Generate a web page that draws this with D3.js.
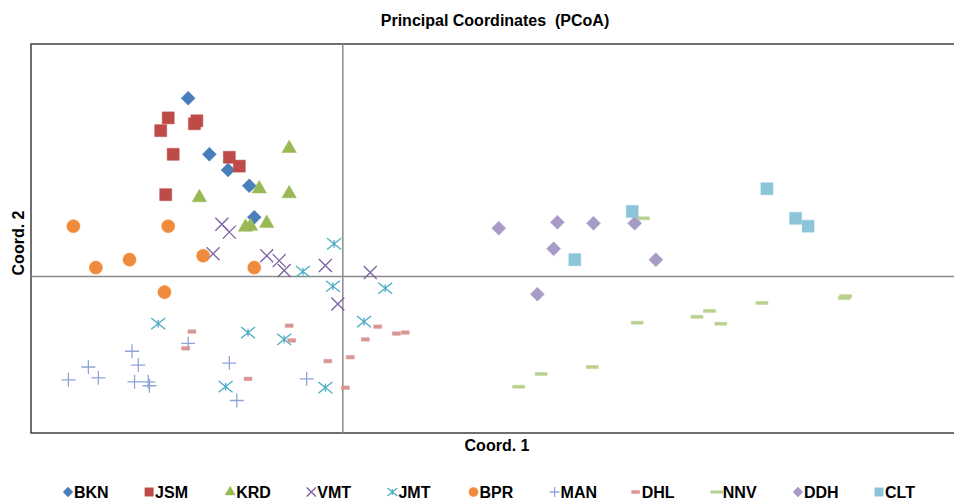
<!DOCTYPE html>
<html>
<head>
<meta charset="utf-8">
<script src="https://cdn.jsdelivr.net/npm/d3@7"></script>
<style>
  body { margin: 0; background: #fff; }
  svg text { font-family: 'Liberation Sans', Arial, sans-serif; font-weight: bold; fill: #000; white-space: pre; }
</style>
</head>
<body>
<svg id="chart" width="954" height="500"></svg>
<script>
// PCoA coordinates per population, [coord1, coord2]
const BKN = [[-0.124, 0.181], [-0.107, 0.124], [-0.092, 0.108], [-0.075, 0.092], [-0.071, 0.060]];
const JSM = [[-0.140, 0.161], [-0.146, 0.148], [-0.117, 0.158], [-0.119, 0.155], [-0.136, 0.124],
  [-0.091, 0.121], [-0.083, 0.112], [-0.142, 0.083]];
const KRD = [[-0.043, 0.130], [-0.067, 0.089], [-0.043, 0.084], [-0.115, 0.080], [-0.078, 0.050],
  [-0.074, 0.051], [-0.061, 0.054]];
const VMT = [[-0.097, 0.053], [-0.091, 0.045], [-0.104, 0.023], [-0.061, 0.021], [-0.051, 0.016],
  [-0.047, 0.006], [-0.014, 0.011], [0.022, 0.004], [-0.004, -0.028]];
const JMT = [[-0.007, 0.033], [-0.032, 0.005], [-0.008, -0.010], [0.034, -0.012], [0.017, -0.046],
  [-0.148, -0.048], [-0.076, -0.057], [-0.047, -0.064], [-0.094, -0.112], [-0.014, -0.113]];
const BPR = [[-0.216, 0.051], [-0.140, 0.051], [-0.198, 0.009], [-0.171, 0.017], [-0.112, 0.021],
  [-0.071, 0.009], [-0.143, -0.016]];
const MAN = [[-0.220, -0.105], [-0.204, -0.092], [-0.196, -0.103], [-0.169, -0.076], [-0.164, -0.090],
  [-0.167, -0.107], [-0.156, -0.107], [-0.155, -0.111], [-0.124, -0.068], [-0.091, -0.088],
  [-0.085, -0.126], [-0.029, -0.104]];
const DHL = [[-0.121, -0.056], [-0.126, -0.073], [-0.043, -0.050], [-0.041, -0.065], [-0.076, -0.104],
  [-0.012, -0.086], [0.006, -0.082], [0.002, -0.113], [0.028, -0.051], [0.018, -0.064],
  [0.043, -0.058], [0.050, -0.057]];
const NNV = [[0.241, 0.059], [0.236, -0.047], [0.141, -0.112], [0.159, -0.099], [0.200, -0.092],
  [0.284, -0.041], [0.294, -0.035], [0.303, -0.048], [0.336, -0.027], [0.403, -0.020], [0.402, -0.022]];
const DDH = [[0.125, 0.049], [0.172, 0.055], [0.201, 0.054], [0.234, 0.054], [0.169, 0.028],
  [0.156, -0.018], [0.251, 0.017]];
const CLT = [[0.232, 0.066], [0.186, 0.017], [0.340, 0.089], [0.363, 0.059], [0.373, 0.051]];

const seriesNames = ['BKN', 'JSM', 'KRD', 'VMT', 'JMT', 'BPR', 'MAN', 'DHL', 'NNV', 'DDH', 'CLT'];
const seriesData = [BKN, JSM, KRD, VMT, JMT, BPR, MAN, DHL, NNV, DDH, CLT];

const svg = d3.select('#chart');
const margin = {left: 31, top: 44, right: 0, bottom: 67};
const W = 954, H = 500;

const x = d3.scaleLinear().domain([-0.25, 0.49]).range([margin.left, W - margin.right]);
const y = d3.scaleLinear().domain([-0.159, 0.236]).range([H - margin.bottom, margin.top]);

// custom marker types
const symX = {draw(c, s) { const r = Math.sqrt(s) / 2; c.moveTo(-r, -r); c.lineTo(r, r); c.moveTo(r, -r); c.lineTo(-r, r); }};
const symStar = {draw(c, s) { const r = Math.sqrt(s) / 2; c.moveTo(-r, -r * 0.8); c.lineTo(r, r * 0.8); c.moveTo(r, -r * 0.8); c.lineTo(-r, r * 0.8); c.moveTo(0, -r * 0.55); c.lineTo(0, r * 0.55); }};
const symPlus = {draw(c, s) { const r = Math.sqrt(s) / 2; c.moveTo(-r, 0); c.lineTo(r, 0); c.moveTo(0, -r); c.lineTo(0, r); }};
const symDiamond = {draw(c, s) { const r = Math.sqrt(s) / 2; c.moveTo(0, -r); c.lineTo(r, 0); c.lineTo(0, r); c.lineTo(-r, 0); c.closePath(); }};
const symDash = w => ({draw(c, s) { const h = Math.sqrt(s) / 2; c.rect(-w / 2, -h / 2, w, h); }});

const styles = {
  BKN: {type: symDiamond, size: 196, color: '#4A7EBB', fill: true},
  JSM: {type: d3.symbolSquare, size: 144, color: '#BE4B48', fill: true},
  KRD: {type: d3.symbolTriangle, size: 90, color: '#98B954', fill: true},
  VMT: {type: symX, size: 169, color: '#7D60A0', fill: false},
  JMT: {type: symStar, size: 196, color: '#4BACC6', fill: false},
  BPR: {type: d3.symbolCircle, size: 135, color: '#F08A3C', fill: true},
  MAN: {type: symPlus, size: 196, color: '#8EA5D8', fill: false},
  DHL: {type: symDash(8), size: 49, color: '#D99694', fill: true},
  NNV: {type: symDash(12), size: 36, color: '#B9D08F', fill: true},
  DDH: {type: symDiamond, size: 196, color: '#A99BC7', fill: true},
  CLT: {type: d3.symbolSquare, size: 144, color: '#8CC5DA', fill: true}
};

// title and axis titles
svg.append('text').attr('x', 495).attr('y', 26).attr('text-anchor', 'middle')
  .style('font-size', '16px').text('Principal Coordinates  (PCoA)');
svg.append('text').attr('x', 497).attr('y', 451).attr('text-anchor', 'middle')
  .style('font-size', '16px').text('Coord. 1');
svg.append('text').attr('transform', 'translate(24,243) rotate(-90)').attr('text-anchor', 'middle')
  .style('font-size', '16px').text('Coord. 2');

// plot frame (right edge is off canvas)
const x0 = x.range()[0], y0 = y.range()[1], y1 = y.range()[0];
svg.append('path').attr('d', `M${W + 2},${y0}H${x0}V${y1}H${W + 2}`)
  .attr('fill', 'none').attr('stroke', '#404040').attr('stroke-width', 1.5);

// zero lines
svg.append('line').attr('x1', x(0)).attr('x2', x(0)).attr('y1', y0).attr('y2', y1)
  .attr('stroke', '#8a8a8a').attr('stroke-width', 1.5);
svg.append('line').attr('x1', x0).attr('x2', W).attr('y1', y(0)).attr('y2', y(0))
  .attr('stroke', '#8a8a8a').attr('stroke-width', 1.5);

function marker(sel, st, scale) {
  sel.attr('d', d3.symbol().type(st.type).size(st.size * scale * scale)())
    .attr('fill', st.fill ? st.color : 'none')
    .attr('stroke', st.color)
    .attr('stroke-width', st.fill ? 0.5 : 1.3);
}

const points = svg.append('g').attr('class', 'points');
seriesNames.forEach((name, i) => {
  const st = styles[name];
  points.append('g').attr('class', name).selectAll('path').data(seriesData[i]).enter().append('path')
    .attr('transform', d => `translate(${x(d[0])},${y(d[1])})`)
    .call(marker, st, 1);
});

// legend, evenly spaced entries
const legend = svg.append('g').attr('class', 'legend');
const legendStep = 81.1;
seriesNames.forEach((name, i) => {
  const st = styles[name];
  const item = legend.append('g').attr('transform', `translate(${68 + i * legendStep},492)`);
  item.append('path').call(marker, st, name === 'DHL' || name === 'NNV' ? 0.85 : 0.7);
  item.append('text').attr('x', 6).attr('y', 6).style('font-size', '16px').text(name);
});
</script>
</body>
</html>
